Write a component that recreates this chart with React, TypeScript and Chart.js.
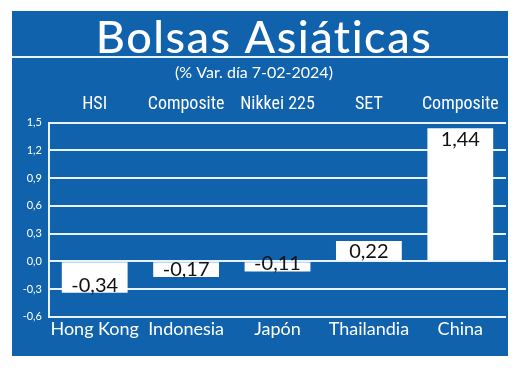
import React, { useEffect, useRef } from "react";
import { Chart, registerables } from "chart.js";

Chart.register(...registerables);

const countries = ["Hong Kong", "Indonesia", "Japón", "Thailandia", "China"];
const indexNames = ["HSI", "Composite", "Nikkei 225", "SET", "Composite"];
const changes = [-0.34, -0.17, -0.11, 0.22, 1.44];
const titleText = "Bolsas Asiáticas";
const subtitleText = "(% Var. día 7-02-2024)";

const PANEL = "#1062ad";
const fmt = (v: number) => v.toFixed(2).replace(".", ",");

const panelPlugin = {
  id: "panel",
  beforeDraw(chart: any) {
    const ctx = chart.ctx;
    ctx.save();
    ctx.fillStyle = "#ffffff";
    ctx.fillRect(0, 0, chart.width, chart.height);
    ctx.fillStyle = PANEL;
    ctx.fillRect(12, 11, 496, 345);
    ctx.strokeStyle = "#e8f2fb";
    ctx.lineWidth = 2;
    ctx.beginPath();
    ctx.moveTo(12, 57);
    ctx.lineTo(508, 57);
    ctx.stroke();
    ctx.fillStyle = "#ffffff";
    ctx.textAlign = "center";
    ctx.textBaseline = "alphabetic";
    ctx.font = "500 45px Lato";
    try {
      (ctx as any).letterSpacing = "1.5px";
    } catch (e) {}
    ctx.fillText(titleText, 264, 53);
    try {
      (ctx as any).letterSpacing = "0px";
    } catch (e) {}
    ctx.font = "16px Lato";
    ctx.fillText(subtitleText, 254, 78);
    ctx.restore();
  },
};

const valueLabels = {
  id: "valueLabels",
  afterDatasetsDraw(chart: any) {
    const ctx = chart.ctx;
    const meta = chart.getDatasetMeta(0);
    ctx.save();
    ctx.fillStyle = "#111111";
    ctx.font = "20px Lato";
    ctx.textAlign = "center";
    meta.data.forEach((bar: any, i: number) => {
      const v = changes[i];
      if (v >= 0) {
        ctx.textBaseline = "top";
        ctx.fillText(fmt(v), bar.x, bar.y + 1);
      } else {
        ctx.textBaseline = "alphabetic";
        ctx.fillText(fmt(v), bar.x, bar.y - 1);
      }
    });
    ctx.restore();
  },
};

export default function App() {
  const ref = useRef<HTMLCanvasElement>(null);
  useEffect(() => {
    const chart = new Chart(ref.current!, {
      type: "bar",
      data: {
        labels: countries,
        datasets: [
          {
            data: changes,
            backgroundColor: "#ffffff",
            borderWidth: 0,
            categoryPercentage: 1,
            barPercentage: 0.72,
          },
        ],
      },
      options: {
        animation: false,
        responsive: false,
        maintainAspectRatio: false,
        layout: { padding: { left: 12, right: 14, top: 90, bottom: 16 } },
        plugins: { legend: { display: false }, tooltip: { enabled: false } },
        scales: {
          y: {
            min: -0.6,
            max: 1.5,
            ticks: {
              stepSize: 0.3,
              color: "#ffffff",
              font: { family: "Lato", size: 11 },
              padding: 7,
              callback: (v: any) => Number(v).toFixed(1).replace(".", ","),
            },
            grid: { color: "#e8f2fb", lineWidth: 2, drawTicks: false },
            border: { color: "#e8f2fb", width: 2 },
            afterFit: (s: any) => {
              s.width = 37;
            },
          },
          x: {
            position: "bottom",
            ticks: {
              color: "#ffffff",
              font: { family: "Lato", size: 18 },
              padding: 2,
              maxRotation: 0,
              minRotation: 0,
              autoSkip: false,
            },
            grid: { display: false, drawTicks: false },
            border: { display: false },
            afterFit: (s: any) => {
              s.height = 39.3;
            },
          },
          x2: {
            type: "category",
            labels: indexNames,
            position: "top",
            offset: true,
            ticks: {
              color: "#ffffff",
              font: { family: "'Liberation Sans Narrow', 'Roboto Condensed', Roboto", size: 18 },
              padding: 7,
              maxRotation: 0,
              minRotation: 0,
              autoSkip: false,
            },
            grid: { display: false, drawTicks: false },
            border: { display: false },
            afterFit: (s: any) => {
              s.height = 32.7;
            },
          },
        },
      },
      plugins: [panelPlugin, valueLabels],
    });
    return () => chart.destroy();
  }, []);
  return (
    <div style={{ position: "fixed", left: 0, top: 0, width: 520, height: 372 }}>
      <canvas ref={ref} width={520} height={372} style={{ width: 520, height: 372 }} />
    </div>
  );
}
